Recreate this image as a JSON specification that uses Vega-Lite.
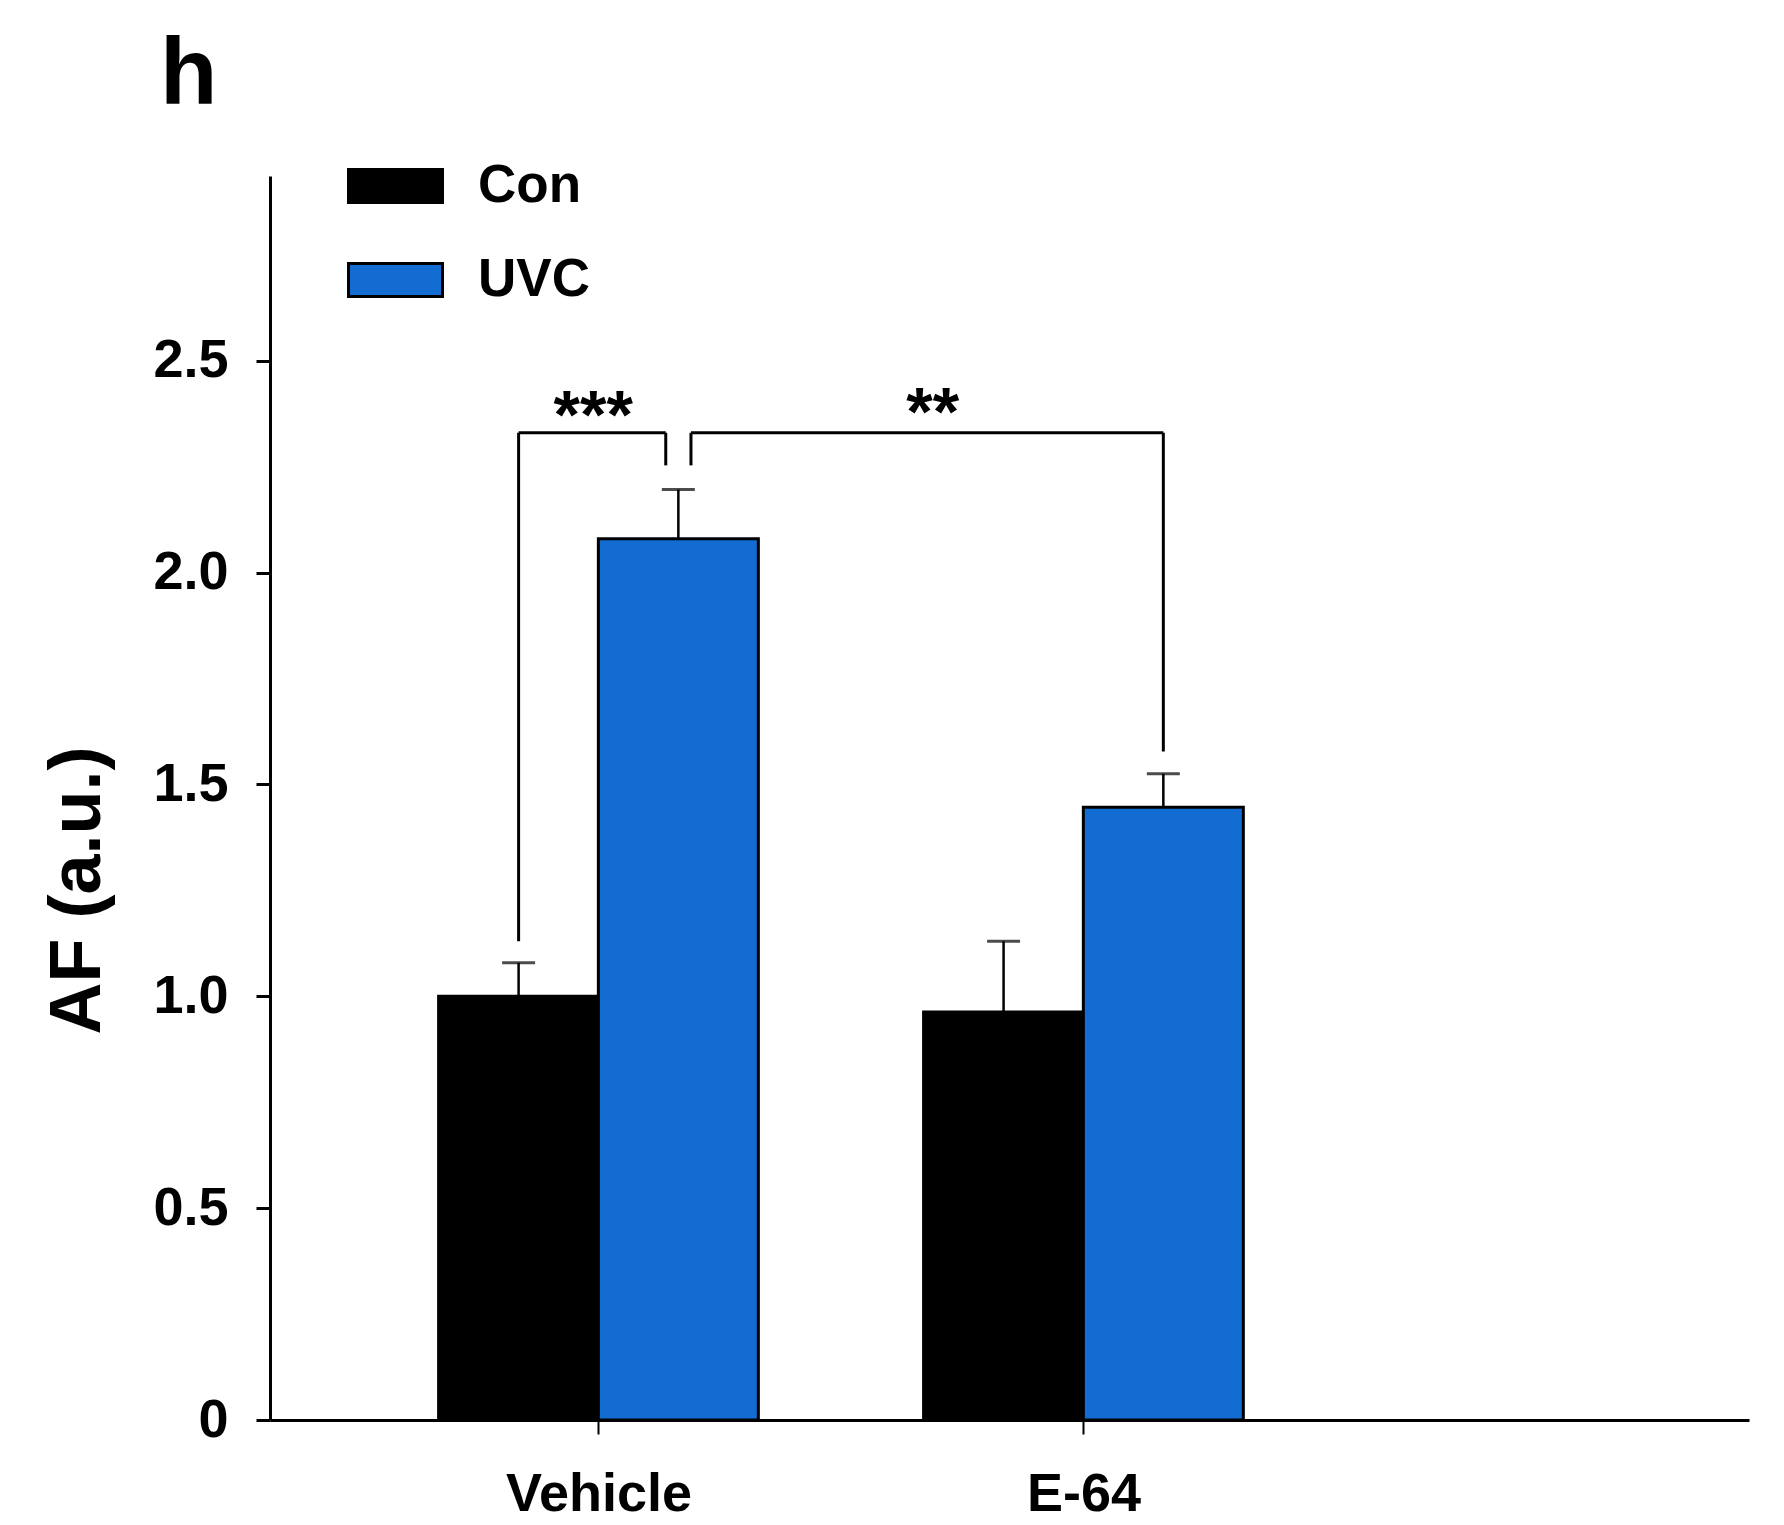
{
  "$schema": "https://vega.github.io/schema/vega-lite/v6.json",
  "width": 1479,
  "height": 1244,
  "autosize": {"type": "none"},
  "padding": {"left": 270, "top": 176, "right": 35, "bottom": 105},
  "background": "white",
  "title": {"text": "h", "anchor": "start", "frame": "group", "font": "Liberation Sans", "fontSize": 94, "fontWeight": "bold", "color": "black", "dx": -110, "offset": -60, "baseline": "alphabetic"},
  "config": {
    "view": {"stroke": null},
    "axis": {"grid": false, "domainColor": "black", "tickColor": "black", "labelColor": "black", "titleColor": "black", "labelFont": "Liberation Sans", "labelFontWeight": "bold", "titleFont": "Liberation Sans", "titleFontWeight": "bold", "labelLimit": 0},
    "legend": {"labelFont": "Liberation Sans", "labelFontWeight": "bold", "labelColor": "black", "labelLimit": 0}
  },
  "datasets": {
    "bars": [
      {"treatment": "Vehicle", "condition": "Con", "xc": 0.8353, "mean": 1.0, "sem": 0.079},
      {"treatment": "Vehicle", "condition": "UVC", "xc": 1.1647, "mean": 2.08, "sem": 0.116},
      {"treatment": "E-64", "condition": "Con", "xc": 1.8353, "mean": 0.963, "sem": 0.167},
      {"treatment": "E-64", "condition": "UVC", "xc": 2.1647, "mean": 1.446, "sem": 0.079}
    ],
    "brackets": [
      {"x": 0.8353, "x2": 0.8353, "y": 1.13, "y2": 2.33},
      {"x": 0.8353, "x2": 1.1387, "y": 2.33, "y2": 2.33},
      {"x": 1.1387, "x2": 1.1387, "y": 2.253, "y2": 2.33},
      {"x": 1.1907, "x2": 1.1907, "y": 2.253, "y2": 2.33},
      {"x": 1.1907, "x2": 2.1647, "y": 2.33, "y2": 2.33},
      {"x": 2.1647, "x2": 2.1647, "y": 1.578, "y2": 2.33}
    ],
    "stars": [
      {"label": "***", "x": 0.989, "y": 2.318},
      {"label": "**", "x": 1.689, "y": 2.324}
    ]
  },
  "layer": [
    {
      "data": {"name": "bars"},
      "mark": {"type": "errorbar", "ticks": {"size": 33, "thickness": 3, "color": "black"}, "rule": {"strokeWidth": 2.5, "color": "black"}, "color": "black"},
      "encoding": {
        "x": {"field": "xc", "type": "quantitative", "scale": {"domain": [0.333, 3.362], "nice": false, "zero": false},
          "axis": {"values": [1, 2], "labelExpr": "datum.value == 1 ? 'Vehicle' : 'E-64'", "title": null, "labelFontSize": 54, "labelPadding": 33, "labelDx": 6, "tickSize": 14, "tickWidth": 2, "domainWidth": 3, "labelAngle": 0}},
        "y": {"field": "mean", "type": "quantitative", "scale": {"domain": [0, 2.936], "nice": false},
          "axis": {"values": [0, 0.5, 1, 1.5, 2, 2.5], "labelExpr": "datum.value == 0 ? '0' : format(datum.value, '.1f')", "title": "AF (a.u.)", "titleFontSize": 72, "titleX": -156, "titleY": 714, "titleAngle": -90, "titleBaseline": "bottom", "titleAlign": "center", "labelFontSize": 54, "labelPadding": 28, "tickSize": 14, "tickWidth": 3, "domainWidth": 3}},
        "yError": {"field": "sem"}
      }
    },
    {
      "data": {"name": "bars"},
      "mark": {"type": "bar", "orient": "vertical", "size": 160, "stroke": "black", "strokeWidth": 3},
      "encoding": {
        "x": {"field": "xc", "type": "quantitative"},
        "y": {"field": "mean", "type": "quantitative"},
        "color": {"field": "condition", "type": "nominal", "scale": {"domain": ["Con", "UVC"], "range": ["#000000", "#126CD2"]},
          "legend": {"title": null, "orient": "none", "legendX": 77, "legendY": -38.5, "padding": 0, "symbolType": "M-1,-0.35H1V0.35H-1Z", "symbolSize": 8836, "symbolStrokeColor": "black", "symbolStrokeWidth": 3, "labelFontSize": 53, "labelOffset": 34, "rowPadding": 18}}
      }
    },
    {
      "data": {"name": "brackets"},
      "mark": {"type": "rule", "color": "black", "strokeWidth": 3},
      "encoding": {
        "x": {"field": "x", "type": "quantitative"},
        "x2": {"field": "x2"},
        "y": {"field": "y", "type": "quantitative"},
        "y2": {"field": "y2"}
      }
    },
    {
      "data": {"name": "stars"},
      "mark": {"type": "text", "font": "Liberation Sans", "fontWeight": "bold", "fontSize": 68, "color": "black", "baseline": "alphabetic", "align": "center"},
      "encoding": {
        "x": {"field": "x", "type": "quantitative"},
        "y": {"field": "y", "type": "quantitative"},
        "text": {"field": "label"}
      }
    }
  ]
}
